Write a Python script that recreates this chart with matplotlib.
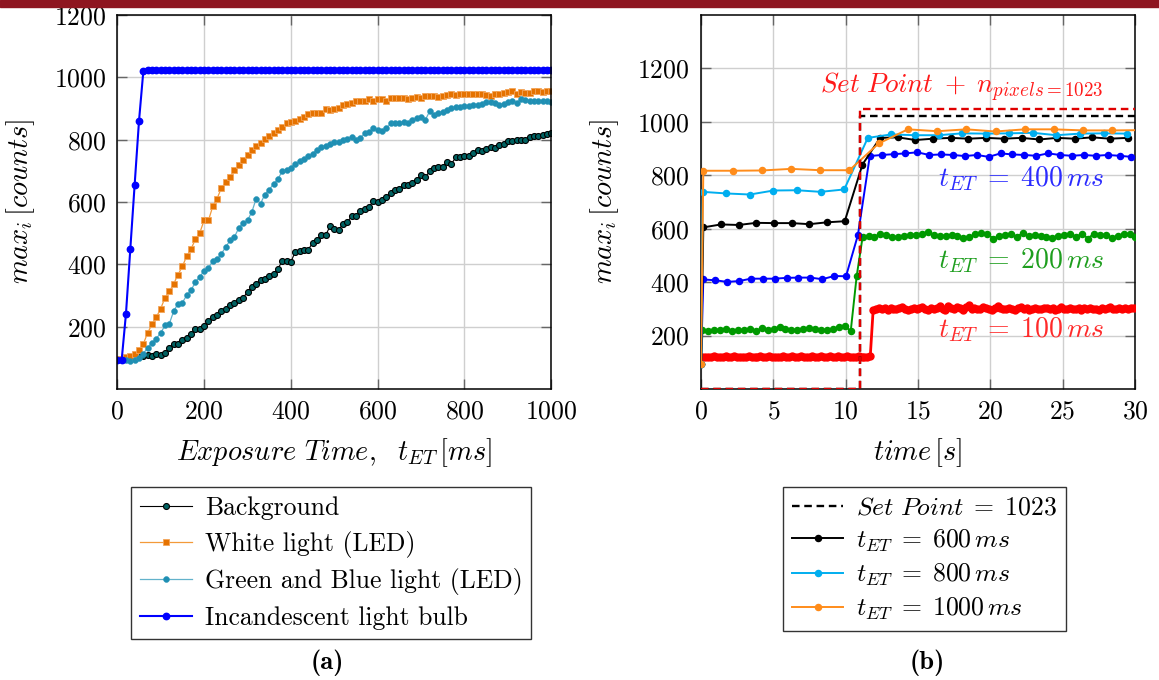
import numpy as np
import matplotlib
matplotlib.use("Agg")
import matplotlib.pyplot as plt

plt.rcParams['font.family'] = 'cmr10'
plt.rcParams['mathtext.fontset'] = 'cm'
plt.rcParams['axes.formatter.use_mathtext'] = True
plt.rcParams['axes.unicode_minus'] = False

# ---------------- data: panel (a) ----------------
exposure_ms = np.arange(0, 1001, 10)

background = [92, 95, 95, 99, 103, 105, 106, 108, 106, 113,
              110, 115, 133, 145, 145, 156, 165, 175, 194, 194,
              202, 218, 231, 236, 250, 258, 268, 276, 287, 293,
              311, 327, 336, 349, 354, 362, 370, 386, 410, 410,
              408, 440, 443, 445, 447, 469, 477, 493, 493, 522,
              512, 509, 531, 536, 554, 555, 571, 579, 584, 603,
              600, 608, 616, 629, 638, 643, 654, 656, 661, 672,
              686, 680, 699, 710, 713, 713, 729, 723, 743, 743,
              748, 747, 757, 766, 763, 771, 777, 774, 782, 787,
              795, 795, 798, 798, 798, 807, 811, 811, 814, 817,
              820]

white_led = [95, 97, 102, 106, 113, 126, 145, 180, 208, 231,
             258, 293, 313, 338, 367, 394, 426, 450, 480, 501,
             541, 541, 586, 611, 646, 663, 680, 702, 718, 734,
             750, 766, 781, 788, 801, 811, 822, 830, 841, 852,
             856, 861, 867, 873, 881, 884, 884, 884, 897, 894,
             897, 902, 910, 914, 918, 924, 924, 924, 929, 924,
             929, 929, 924, 933, 935, 935, 934, 931, 935, 937,
             935, 940, 941, 941, 937, 939, 943, 948, 944, 948,
             945, 948, 948, 948, 948, 944, 941, 946, 948, 950,
             953, 957, 946, 953, 951, 950, 955, 955, 953, 955,
             957]

green_blue_led = [92, 94, 92, 89, 92, 99, 113, 133, 148, 162,
                  180, 204, 210, 250, 274, 277, 301, 317, 343, 360,
                  379, 389, 410, 416, 434, 456, 477, 488, 517, 533,
                  541, 568, 611, 595, 624, 640, 657, 673, 699, 702,
                  710, 723, 731, 737, 748, 755, 768, 775, 779, 787,
                  794, 793, 798, 802, 807, 800, 805, 820, 824, 836,
                  830, 828, 836, 852, 854, 854, 857, 854, 862, 868,
                  873, 864, 892, 878, 884, 889, 894, 900, 905, 905,
                  908, 908, 910, 910, 916, 921, 921, 918, 910, 916,
                  921, 924, 918, 929, 927, 924, 924, 924, 923, 923,
                  921]

incandescent = [92, 92, 242, 450, 656, 860, 1020, 1023, 1023, 1023,
                1023, 1023, 1023, 1023, 1023, 1023, 1023, 1023, 1023, 1023,
                1023, 1023, 1023, 1023, 1023, 1023, 1023, 1023, 1023, 1023,
                1023, 1023, 1023, 1023, 1023, 1023, 1023, 1023, 1023, 1023,
                1023, 1023, 1023, 1023, 1023, 1023, 1023, 1023, 1023, 1023,
                1023, 1023, 1023, 1023, 1023, 1023, 1023, 1023, 1023, 1023,
                1023, 1023, 1023, 1023, 1023, 1023, 1023, 1023, 1023, 1023,
                1023, 1023, 1023, 1023, 1023, 1023, 1023, 1023, 1023, 1023,
                1023, 1023, 1023, 1023, 1023, 1023, 1023, 1023, 1023, 1023,
                1023, 1023, 1023, 1023, 1023, 1023, 1023, 1023, 1023, 1023,
                1023]

# ---------------- data: panel (b) ----------------
t_100 = 0.1 + 0.2 * np.arange(150)
v_100 = [120, 118, 121, 119, 122, 120, 118, 121, 123, 119,
         120, 122, 118, 121, 120, 119, 123, 121, 118, 120,
         122, 119, 121, 124, 120, 118, 121, 120, 122, 119,
         121, 123, 120, 118, 122, 121, 119, 120, 123, 121,
         118, 122, 120, 121, 124, 119, 120, 122, 121, 118,
         123, 120, 121, 119, 122, 120, 121, 118, 122,
         296, 301, 304, 299, 302, 297, 305, 300, 298, 303,
         306, 299, 294, 301, 304, 298, 302, 307, 300, 296,
         303, 299, 305, 309, 301, 297, 311, 304, 298, 306,
         302, 295, 308, 313, 300, 304, 298, 301, 307, 303,
         299, 296, 304, 310, 302, 298, 301, 305, 300, 297,
         303, 306, 299, 302, 296, 301, 304, 300, 298, 303,
         305, 299, 302, 297, 301, 306, 300, 298, 303, 299,
         301, 304, 297, 302, 300, 305, 299, 301, 296, 303,
         300, 302, 306, 299, 301, 304, 298, 302, 300, 303,
         305]

t_200 = np.concatenate([[0.0], 0.1 + 0.41 * np.arange(74)])
v_200 = [92,
         220, 216, 220, 222, 226, 216, 220, 222, 226, 217,
         228, 222, 226, 232, 226, 222, 220, 226, 230, 226,
         222, 220, 226, 232, 235, 217, 422,
         569, 572, 569, 582, 576, 569, 569, 572, 576, 578,
         582, 588, 576, 572, 572, 578, 572, 567, 569, 579,
         584, 582, 563, 572, 576, 579, 569, 584, 572, 576,
         572, 569, 567, 572, 576, 582, 569, 582, 563, 582,
         578, 576, 567, 572, 579, 579, 569]

t_400 = np.concatenate([[0.0], 0.16 + 0.822 * np.arange(37)])
v_400 = [92,
         410, 407, 401, 404, 413, 413, 413, 416, 417, 417, 411, 423, 422,
         576, 872, 876, 879, 882, 886, 876, 878, 876, 872, 876, 869, 882,
         878, 876, 873, 882, 876, 873, 876, 873, 876, 873, 869]

t_600 = np.concatenate([[0.0], 0.16 + 1.222 * np.arange(25)])
v_600 = [92,
         605, 616, 614, 622, 621, 621, 617, 624, 628, 840,
         940, 942, 932, 937, 940, 937, 940, 937, 940, 934,
         940, 937, 942, 937, 940]

t_800 = np.concatenate([[0.0], 0.12 + 1.63 * np.arange(19)])
v_800 = [92,
         738, 732, 728, 743, 744, 738, 747, 940, 953, 950,
         950, 957, 956, 957, 959, 950, 956, 957, 956]

t_1000 = np.concatenate([[0.0], 0.16 + 2.02 * np.arange(16)])
v_1000 = [92,
          817, 817, 818, 824, 819, 819, 919, 972, 965, 972,
          964, 972, 972, 968, 968, 969]

sp_t = [0, 11, 11, 30]
sp_v = [0, 0, 1023, 1023]
spn_v = [0, 0, 1050, 1050]

# ---------------- figure ----------------
W, H = 1159, 680
fig = plt.figure(figsize=(W / 100, H / 100), dpi=100)

fig.patches.append(plt.Rectangle((0, 1 - 7 / H), 1, 7 / H, transform=fig.transFigure,
                                 color='#8E1520', zorder=0))

ax1 = fig.add_axes([117.3 / W, 1 - 389 / H, 434 / W, 374 / H])
ax2 = fig.add_axes([701 / W, 1 - 389 / H, 434 / W, 374 / H])

FS = 18.5
LFS = 20.3

for ax in (ax1, ax2):
    ax.grid(True, color='#cfcfcf', linewidth=1.0)
    ax.set_axisbelow(True)
    ax.tick_params(direction='in', length=7, width=1, color='0.4',
                   top=True, right=True, labelsize=FS, pad=8)
    for s in ax.spines.values():
        s.set_linewidth(1.1)

# panel (a)
ax1.plot(exposure_ms, background, color='black', lw=0.8, marker='o', ms=4.3,
         mfc='#006262', mec='black', mew=0.8, label='Background')
ax1.plot(exposure_ms, white_led, color='#F39A3A', lw=0.9, marker='s', ms=4.0,
         mfc='#E57200', mec='#F3A55A', mew=0.6, label='White light (LED)')
ax1.plot(exposure_ms, green_blue_led, color='#62B2CB', lw=0.9, marker='o', ms=4.2,
         mfc='#1F8FB3', mec='#2A97B9', mew=0.4, label='Green and Blue light (LED)')
ax1.plot(exposure_ms, incandescent, color='#0000FF', lw=1.5, marker='o', ms=4.6,
         mfc='#0000FF', mec='#0000FF', label='Incandescent light bulb')
ax1.set_xlim(0, 1000)
ax1.set_ylim(0, 1200)
ax1.set_xticks([0, 200, 400, 600, 800, 1000])
ax1.set_yticks([200, 400, 600, 800, 1000, 1200])
ax1.set_xlabel(r'$Exposure\ Time,\ \ t_{ET}\,[ms]$', fontsize=LFS, labelpad=9)
ax1.set_ylabel(r'$max_i\,[counts]$', fontsize=LFS, labelpad=12)
leg1 = ax1.legend(loc='upper center', bbox_to_anchor=(0.4935, -0.262), fontsize=FS,
                  numpoints=1, frameon=True, fancybox=False, edgecolor='black',
                  handlelength=2.0, labelspacing=0.42, borderpad=0.35, handletextpad=0.5,
                  borderaxespad=0)
leg1.get_frame().set_linewidth(1.0)

# panel (b)
ax2.plot(t_100, v_100, color='#FF0000', lw=2.0, marker='o', ms=5.0, mec='#FF0000', zorder=3)
ax2.plot(t_200, v_200, color='#009900', lw=1.4, marker='o', ms=4.4, mec='#009900', zorder=3)
ax2.plot(t_400, v_400, color='#0000FF', lw=1.4, marker='o', ms=4.4, mec='#0000FF', zorder=3)
ax2.plot(t_600, v_600, color='black', lw=1.4, marker='o', ms=4.4, zorder=3,
         label=r'$t_{ET}\;=\;600\,ms$')
ax2.plot(t_800, v_800, color='#00AEEF', lw=1.4, marker='o', ms=4.4, zorder=3,
         label=r'$t_{ET}\;=\;800\,ms$')
ax2.plot(t_1000, v_1000, color='#FF8C1A', lw=1.4, marker='o', ms=4.4, zorder=3,
         label=r'$t_{ET}\;=\;1000\,ms$')
ax2.plot(sp_t, sp_v, color='black', lw=1.7, dashes=(3.2, 2.0), zorder=4,
         label=r'$Set\ Point\;=\;1023$')
ax2.plot(sp_t, spn_v, color='#E00000', lw=1.7, dashes=(3.2, 2.0), zorder=5)
ax2.set_xlim(0, 30)
ax2.set_ylim(0, 1400)
ax2.set_xticks([0, 5, 10, 15, 20, 25, 30])
ax2.set_yticks([200, 400, 600, 800, 1000, 1200])
ax2.set_xlabel(r'$time\,[s]$', fontsize=LFS, labelpad=9)
ax2.set_ylabel(r'$max_i\,[counts]$', fontsize=LFS, labelpad=12)

ax2.text(8.2, 1107, r'$Set\ Point\;+\;n_{pixels=1023}$', color='#FF1A1A', fontsize=FS + 1,
         ha='left', va='baseline')
ax2.text(16.4, 757, r'$t_{ET}\;=\;400\,ms$', color='#2B2BFF', fontsize=FS + 1.5,
         ha='left', va='baseline', zorder=6)
ax2.text(16.4, 451, r'$t_{ET}\;=\;200\,ms$', color='#1E9E1E', fontsize=FS + 1.5,
         ha='left', va='baseline', zorder=6)
ax2.text(16.4, 195, r'$t_{ET}\;=\;100\,ms$', color='#FF2A2A', fontsize=FS + 1.5,
         ha='left', va='baseline', zorder=6)

handles, labels = ax2.get_legend_handles_labels()
want = [r'$Set\ Point\;=\;1023$', r'$t_{ET}\;=\;600\,ms$',
        r'$t_{ET}\;=\;800\,ms$', r'$t_{ET}\;=\;1000\,ms$']
order = [labels.index(w) for w in want]
leg2 = ax2.legend([handles[i] for i in order], [labels[i] for i in order],
                  loc='upper center', bbox_to_anchor=(0.515, -0.262), fontsize=FS,
                  numpoints=1, frameon=True, fancybox=False, edgecolor='black',
                  handlelength=2.0, labelspacing=0.3, borderpad=0.35, handletextpad=0.5,
                  borderaxespad=0)
leg2.get_frame().set_linewidth(1.0)

fig.text(327 / W, 1 - 663 / H, '(a)', ha='center', va='center', fontsize=FS + 0.5,
         family='cmb10')
fig.text(927 / W, 1 - 663 / H, '(b)', ha='center', va='center', fontsize=FS + 0.5,
         family='cmb10')

fig.savefig('out.png', dpi=100)
